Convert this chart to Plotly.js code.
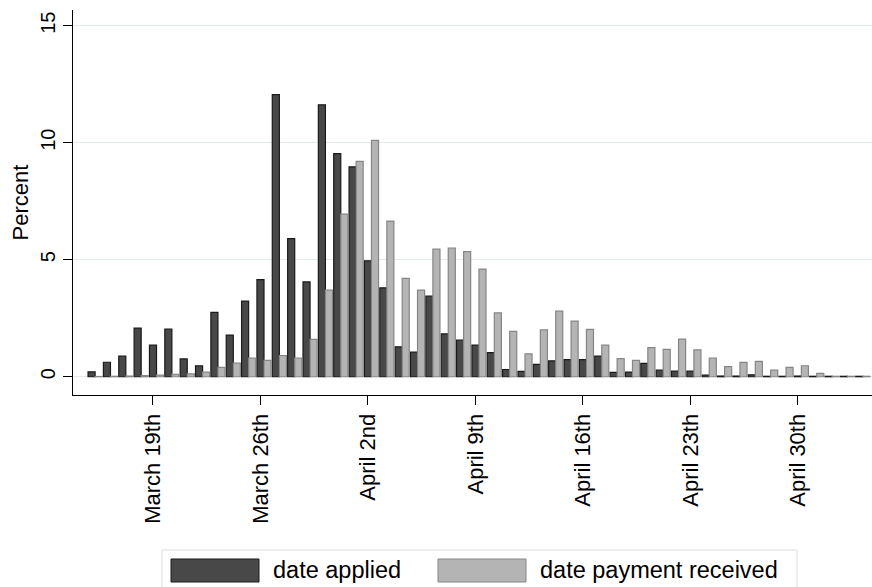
<!DOCTYPE html>
<html>
<head>
<meta charset="utf-8">
<script src="https://cdn.plot.ly/plotly-3.0.1.min.js"></script>
<style>html,body{margin:0;padding:0;background:#fff;}#chart{width:872px;height:587px;}</style>
</head>
<body>
<div id="chart"></div>
<script>
// Days from March 15 (index 0) to May 4 (index 50)
var dayLabels = ["Mar 15","Mar 16","Mar 17","Mar 18","Mar 19","Mar 20","Mar 21","Mar 22","Mar 23","Mar 24",
  "Mar 25","Mar 26","Mar 27","Mar 28","Mar 29","Mar 30","Mar 31","Apr 1","Apr 2","Apr 3",
  "Apr 4","Apr 5","Apr 6","Apr 7","Apr 8","Apr 9","Apr 10","Apr 11","Apr 12","Apr 13",
  "Apr 14","Apr 15","Apr 16","Apr 17","Apr 18","Apr 19","Apr 20","Apr 21","Apr 22","Apr 23",
  "Apr 24","Apr 25","Apr 26","Apr 27","Apr 28","Apr 29","Apr 30","May 1","May 2","May 3","May 4"];

var dateApplied = [0.21,0.62,0.88,2.08,1.35,2.04,0.76,0.47,2.75,1.78,
  3.23,4.15,12.05,5.9,4.05,11.62,9.53,8.97,4.95,3.8,
  1.28,1.05,3.45,1.83,1.57,1.35,1.03,0.31,0.23,0.53,
  0.68,0.73,0.73,0.88,0.19,0.2,0.57,0.28,0.24,0.24,
  0.07,0.03,0.03,0.08,0.02,0.02,0.03,0.02,0.02,0.02,0.02];

var datePaymentReceived = [0.01,0.02,0.03,0.05,0.07,0.1,0.12,0.2,0.4,0.58,
  0.8,0.7,0.9,0.8,1.6,3.7,6.95,9.2,10.1,6.65,
  4.2,3.7,5.45,5.5,5.35,4.6,2.73,1.94,0.98,2.0,
  2.8,2.38,2.02,1.35,0.77,0.7,1.24,1.17,1.61,1.15,
  0.8,0.43,0.61,0.66,0.28,0.4,0.47,0.14,0.02,0.02,0.02];

var tickDays = [4, 11, 18, 25, 32, 39, 46];
var tickText = ["March 19th","March 26th","April 2nd","April 9th","April 16th","April 23th","April 30th"];

var yTicks = [0, 5, 10, 15];
var seriesNames = ["date applied", "date payment received"];

var xIdx = dayLabels.map(function(d, i){ return i; });

var W = 872, H = 587;
var M = {l: 73, r: 0, t: 10, b: 192};
var PW = W - M.l - M.r, PH = H - M.t - M.b;
function px(x){ return (x - M.l) / PW; }
function py(y){ return (H - M.b - y) / PH; }

var darkFill = '#484848', darkLine = '#1a1a1a';
var lightFill = '#b4b4b4', lightLine = '#868686';
var bw = 0.46;

var traces = [
  {type:'bar', x:xIdx, y:dateApplied, name:seriesNames[0], width:bw, offset:-bw/2,
   marker:{color:darkFill, line:{color:darkLine, width:1.2}}, hoverinfo:'y'},
  {type:'bar', x:xIdx, y:datePaymentReceived, name:seriesNames[1], width:bw, offset:bw/2,
   marker:{color:lightFill, line:{color:lightLine, width:1.2}}, hoverinfo:'y'}
];

var FONT = 'Liberation Sans, Arial, sans-serif';

var layout = {
  width: W, height: H,
  margin: M,
  paper_bgcolor:'#ffffff', plot_bgcolor:'#ffffff',
  barmode:'overlay',
  showlegend:false,
  font:{family:FONT, color:'#000', size:20},
  xaxis:{
    range:[-1.21, 50.83], tickmode:'array', tickvals:tickDays, ticktext:tickText,
    tickangle:-90, ticks:'outside', ticklen:9, tickwidth:1, tickcolor:'#000',
    showline:true, linecolor:'#000', linewidth:1, showgrid:false, zeroline:false,
    tickfont:{family:FONT, size:22, color:'#000'}
  },
  yaxis:{
    range:[-0.78, 15.67], tickmode:'array', tickvals:yTicks,
    tickangle:-90, ticks:'outside', ticklen:9, tickwidth:1, tickcolor:'#000',
    showline:true, linecolor:'#000', linewidth:1,
    showgrid:true, gridcolor:'#e2ecec', gridwidth:1.5, zeroline:false,
    tickfont:{family:FONT, size:20, color:'#000'},
    title:{text:'Percent', font:{family:FONT, size:22, color:'#000'}, standoff:2}
  },
  shapes:[
    {type:'rect', xref:'paper', yref:'paper', x0:px(162), x1:px(797), y0:py(592), y1:py(550),
     line:{color:'#dcdcdc', width:1}, fillcolor:'rgba(0,0,0,0)'},
    {type:'rect', xref:'paper', yref:'paper', x0:px(171), x1:px(259), y0:py(582), y1:py(559),
     line:{color:darkLine, width:1}, fillcolor:darkFill},
    {type:'rect', xref:'paper', yref:'paper', x0:px(438), x1:px(526), y0:py(582), y1:py(559),
     line:{color:lightLine, width:1}, fillcolor:lightFill}
  ],
  annotations:[
    {xref:'paper', yref:'paper', x:px(271), y:py(570), xanchor:'left', yanchor:'middle',
     text:seriesNames[0], showarrow:false, font:{family:FONT, size:23.5, color:'#000'}},
    {xref:'paper', yref:'paper', x:px(538), y:py(570), xanchor:'left', yanchor:'middle',
     text:seriesNames[1], showarrow:false, font:{family:FONT, size:23.5, color:'#000'}}
  ]
};

Plotly.newPlot('chart', traces, layout, {staticPlot:true, displayModeBar:false});
</script>
</body>
</html>
